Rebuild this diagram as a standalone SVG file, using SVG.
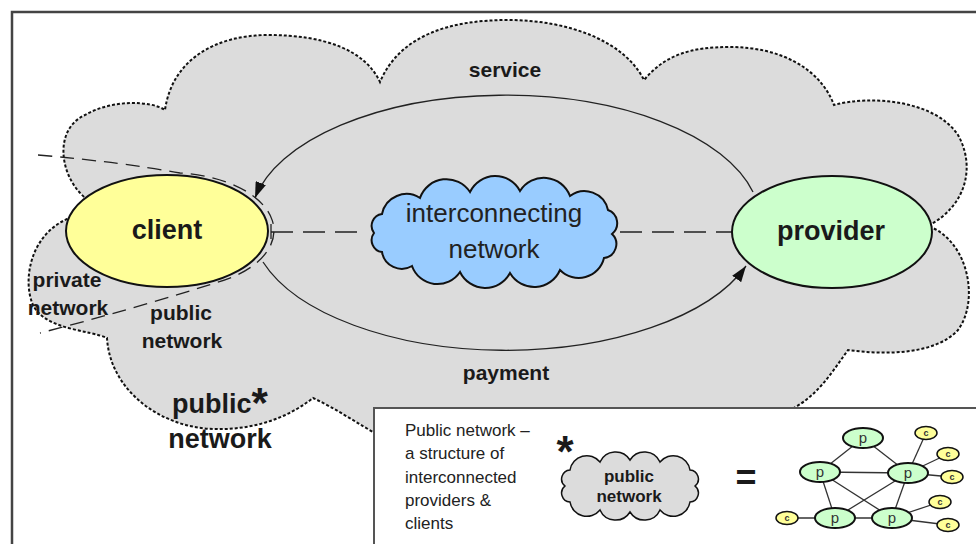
<svg xmlns="http://www.w3.org/2000/svg" width="976" height="544" viewBox="0 0 976 544">
<defs>
<style>
.frame{fill:#fff;stroke:#444;stroke-width:2.5}
.bigcloud{fill:#dcdcdc;stroke:#111;stroke-width:2;stroke-dasharray:3 2}
.arc{fill:none;stroke:#222;stroke-width:1.3}
.dash{fill:none;stroke:#222;stroke-width:1.5;stroke-dasharray:22 10}
.bound{fill:none;stroke:#222;stroke-width:1.3;stroke-dasharray:14 8}
.node{stroke:#111;stroke-width:2}
.lbl{font-family:"Liberation Sans",Arial,sans-serif;font-weight:bold;fill:#1a1a1a;text-anchor:middle}
.reg{font-family:"Liberation Sans",Arial,sans-serif;fill:#222}
.edge{stroke:#333;stroke-width:1.3}
.pn{fill:#ccffcc;stroke:#111;stroke-width:2}
.cn{fill:#ffff99;stroke:#111;stroke-width:1.5}
.pt{font-family:"Liberation Sans",Arial,sans-serif;font-size:15px;fill:#333;text-anchor:middle}
.ct{font-family:"Liberation Sans",Arial,sans-serif;font-size:9px;font-weight:bold;fill:#333;text-anchor:middle}
</style>
<marker id="arr" viewBox="0 0 16 11" refX="16" refY="5.5" markerWidth="16" markerHeight="11" markerUnits="userSpaceOnUse" orient="auto">
<path d="M0,0 L16,5.5 L0,11 z" fill="#111"/>
</marker>
</defs>

<rect class="frame" x="12" y="12" width="1000" height="600"/>

<g id="public-network-cloud">
<path class="bigcloud" d="M 88,200 C 60,180 52,130 85,115 C 110,100 150,100 165,110 C 172,60 215,35 268,35 C 325,35 365,50 380,82 C 400,35 450,20 508,20 C 570,20 625,42 644,80 C 665,55 690,47 730,47 C 780,47 820,68 834,105 C 870,95 935,100 958,135 C 975,165 968,205 928,226 C 968,240 980,300 958,330 C 935,355 885,355 848,350 C 830,375 815,400 785,412 L 600,450 L 380,436 C 360,425 335,408 313,398 C 285,420 250,430 215,429 C 160,428 110,390 107,338 C 90,330 45,330 33,305 C 22,280 30,230 75,216 Z"/>
<text class="lbl" x="220" y="413" font-size="27">public<tspan font-size="42" dy="4">*</tspan></text>
<text class="lbl" x="220" y="448" font-size="27">network</text>
</g>

<g id="connectors">
<path class="arc" d="M 753,192 A 255 127 0 0 0 255,198" marker-end="url(#arr)"/>
<path class="arc" d="M 263,262 A 255 127 0 0 0 746,266" marker-end="url(#arr)"/>
<line class="dash" x1="271" y1="232" x2="366" y2="232"/>
<line class="dash" x1="620" y1="232" x2="733" y2="232"/>
<line x1="271" y1="224" x2="271" y2="239" stroke="#222" stroke-width="1.3"/>
<text class="lbl" x="505" y="77" font-size="21">service</text>
<text class="lbl" x="506" y="380" font-size="21">payment</text>
</g>

<g id="client">
<ellipse class="node" cx="167" cy="231" rx="101" ry="56" fill="#ffff99"/>
<text class="lbl" x="167" y="239" font-size="27">client</text>
</g>

<g id="provider">
<ellipse class="node" cx="832" cy="232" rx="100" ry="56" fill="#ccffcc"/>
<text class="lbl" x="831" y="240" font-size="27">provider</text>
</g>

<g id="interconnecting-network">
<path class="node" fill="#99ccff" d="M 382,214 A 25 25 0 0 1 420,198 A 28 28 0 0 1 470,192 A 28 28 0 0 1 520,191 A 28 28 0 0 1 570,196 A 24 24 0 0 1 608,210 A 14 14 0 0 1 612,234 A 14 14 0 0 1 604,258 A 26 26 0 0 1 560,270 A 28 28 0 0 1 510,273 A 28 28 0 0 1 460,272 A 27 27 0 0 1 412,266 A 20 20 0 0 1 382,252 A 12 12 0 0 1 374,233 A 12 12 0 0 1 382,214 Z"/>
<text class="reg" x="494" y="222" font-size="26" text-anchor="middle">interconnecting</text>
<text class="reg" x="494" y="258" font-size="26" text-anchor="middle">network</text>
</g>

<g id="private-public-boundary">
<path class="bound" d="M 38,155 Q 120,162 180,173 A 104 58 0 0 1 215,283 Q 130,310 40,333"/>
<text class="lbl" x="67" y="287" font-size="21">private</text>
<text class="lbl" x="68" y="315" font-size="21">network</text>
<text class="lbl" x="181" y="320" font-size="21">public</text>
<text class="lbl" x="182" y="348" font-size="21">network</text>
</g>

<g id="legend">
<rect x="374" y="408" width="700" height="200" fill="#fff" stroke="#555" stroke-width="2"/>
<text class="reg" x="405" y="436" font-size="17">Public network –</text>
<text class="reg" x="405" y="459" font-size="17">a structure of</text>
<text class="reg" x="405" y="483" font-size="17">interconnected</text>
<text class="reg" x="405" y="506" font-size="17">providers &amp;</text>
<text class="reg" x="405" y="529" font-size="17">clients</text>
<text class="lbl" x="565" y="467" font-size="44">*</text>
<path fill="#dcdcdc" stroke="#111" stroke-width="1.5" d="M 570,470 A 17 17 0 0 1 600,462 A 17 17 0 0 1 630,460 A 17 17 0 0 1 660,462 A 17 17 0 0 1 690,470 A 9 9 0 0 1 695,486 A 9 9 0 0 1 690,502 A 17 17 0 0 1 660,510 A 17 17 0 0 1 630,512 A 17 17 0 0 1 600,510 A 17 17 0 0 1 570,502 A 9 9 0 0 1 565,486 A 9 9 0 0 1 570,470 Z"/>
<text class="lbl" x="629" y="482" font-size="17">public</text>
<text class="lbl" x="629" y="502" font-size="17">network</text>
<text class="lbl" x="746" y="490" font-size="36">=</text>
<g id="mini-edges">
<line class="edge" x1="863" y1="438" x2="820" y2="472"/>
<line class="edge" x1="863" y1="438" x2="908" y2="473"/>
<line class="edge" x1="820" y1="472" x2="908" y2="473"/>
<line class="edge" x1="820" y1="472" x2="835" y2="518"/>
<line class="edge" x1="820" y1="472" x2="892" y2="518"/>
<line class="edge" x1="908" y1="473" x2="835" y2="518"/>
<line class="edge" x1="908" y1="473" x2="892" y2="518"/>
<line class="edge" x1="835" y1="518" x2="892" y2="518"/>
<line class="edge" x1="908" y1="473" x2="926" y2="433"/>
<line class="edge" x1="908" y1="473" x2="948" y2="454"/>
<line class="edge" x1="908" y1="473" x2="952" y2="477"/>
<line class="edge" x1="892" y1="518" x2="940" y2="502"/>
<line class="edge" x1="892" y1="518" x2="948" y2="525"/>
<line class="edge" x1="835" y1="518" x2="787" y2="518"/>
</g>
<g id="p1"><ellipse class="pn" cx="863" cy="438" rx="20" ry="10"/><text class="pt" x="863" y="443">p</text></g>
<g id="p2"><ellipse class="pn" cx="820" cy="472" rx="20" ry="10"/><text class="pt" x="820" y="477">p</text></g>
<g id="p3"><ellipse class="pn" cx="908" cy="473" rx="20" ry="10"/><text class="pt" x="908" y="478">p</text></g>
<g id="p4"><ellipse class="pn" cx="835" cy="518" rx="20" ry="10"/><text class="pt" x="835" y="523">p</text></g>
<g id="p5"><ellipse class="pn" cx="892" cy="518" rx="20" ry="10"/><text class="pt" x="892" y="523">p</text></g>
<g id="c1"><ellipse class="cn" cx="926" cy="433" rx="11" ry="6.5"/><text class="ct" x="926" y="436">c</text></g>
<g id="c2"><ellipse class="cn" cx="948" cy="454" rx="11" ry="6.5"/><text class="ct" x="948" y="457">c</text></g>
<g id="c3"><ellipse class="cn" cx="952" cy="477" rx="11" ry="6.5"/><text class="ct" x="952" y="480">c</text></g>
<g id="c4"><ellipse class="cn" cx="940" cy="502" rx="11" ry="6.5"/><text class="ct" x="940" y="505">c</text></g>
<g id="c5"><ellipse class="cn" cx="948" cy="525" rx="11" ry="6.5"/><text class="ct" x="948" y="528">c</text></g>
<g id="c6"><ellipse class="cn" cx="787" cy="518" rx="11" ry="6.5"/><text class="ct" x="787" y="521">c</text></g>
</g>
</svg>
